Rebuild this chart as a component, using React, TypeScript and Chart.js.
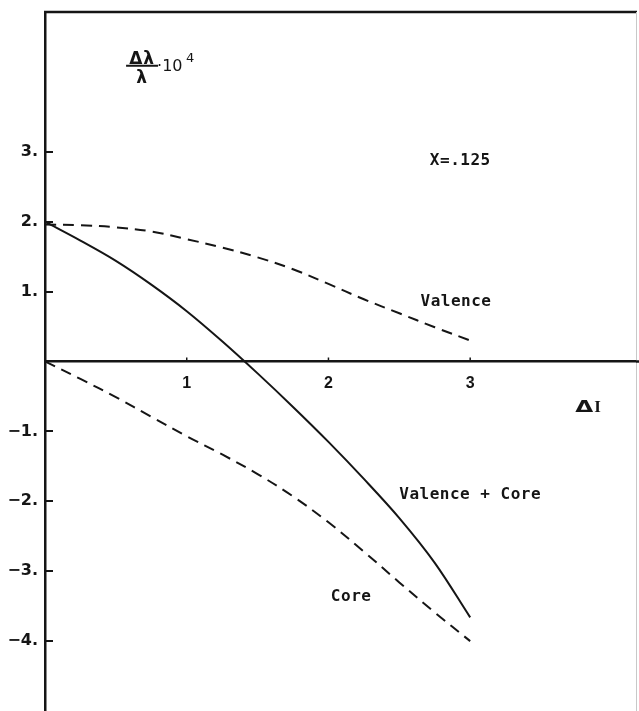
import { useEffect, useRef } from 'react';
import { Chart, registerables } from 'chart.js';

Chart.register(...registerables);

// ΔI values (x axis)
const deltaI = [0, 0.25, 0.5, 0.75, 1, 1.25, 1.5, 1.75, 2, 2.25, 2.5, 2.75, 3];
// Δλ/λ·10^4 series
const valence = [1.96, 1.95, 1.92, 1.86, 1.75, 1.63, 1.49, 1.32, 1.11, 0.89, 0.69, 0.49, 0.3];
const valenceCore = [2.0, 1.73, 1.44, 1.1, 0.72, 0.29, -0.17, -0.65, -1.15, -1.68, -2.24, -2.88, -3.66];
const core = [0, -0.25, -0.51, -0.79, -1.07, -1.33, -1.61, -1.93, -2.3, -2.72, -3.16, -3.59, -4.0];

const yTickValues = [-4, -3, -2, -1, 1, 2, 3];
const xTickValues = [1, 2, 3];

const annotationTexts = ['X=.125', 'Valence', 'Valence + Core', 'Core'];
const annotationX = [2.93, 2.9, 3.0, 2.16];
const annotationY = [2.87, 0.85, -1.91, -3.37];

const axisTitleX = [3.84, 0.685];
const axisTitleY = [-0.665, 4.23];

const INK = '#151515';

const pts = (ys: number[]) => deltaI.map((x, i) => ({ x, y: ys[i] }));

const decorPlugin = {
  id: 'decor',
  afterDraw(chart: any) {
    const { ctx, chartArea, scales } = chart;
    const xs = scales.x;
    const ys = scales.y;
    ctx.save();
    // frame: top and right
    ctx.strokeStyle = INK;
    ctx.lineWidth = 2.5;
    ctx.beginPath();
    ctx.moveTo(chartArea.left - 1, chartArea.top);
    ctx.lineTo(chartArea.right + 1, chartArea.top);
    ctx.stroke();
    ctx.strokeStyle = '#c8c8c8';
    ctx.lineWidth = 1;
    ctx.beginPath();
    ctx.moveTo(chartArea.right + 0.5, chartArea.top);
    ctx.lineTo(chartArea.right + 0.5, chartArea.bottom);
    ctx.stroke();
    // extend x axis to the edge
    const y0 = ys.getPixelForValue(0);
    ctx.strokeStyle = INK;
    ctx.lineWidth = 2.5;
    ctx.beginPath();
    ctx.moveTo(chartArea.right, y0);
    ctx.lineTo(chart.width, y0);
    ctx.stroke();
    // inward y ticks
    ctx.lineWidth = 2;
    yTickValues.forEach((v) => {
      const py = Math.round(ys.getPixelForValue(v));
      ctx.beginPath();
      ctx.moveTo(chartArea.left, py);
      ctx.lineTo(chartArea.left + 8, py);
      ctx.stroke();
    });
    // small upward x ticks
    ctx.lineWidth = 1.5;
    xTickValues.forEach((v) => {
      const px = xs.getPixelForValue(v);
      ctx.beginPath();
      ctx.moveTo(px, y0);
      ctx.lineTo(px, y0 - 4);
      ctx.stroke();
    });
    // annotations
    ctx.fillStyle = INK;
    ctx.textAlign = 'center';
    ctx.textBaseline = 'middle';
    ctx.font = 'bold 16px "DejaVu Sans Mono"';
    (ctx as any).letterSpacing = '0.5px';
    annotationTexts.forEach((t, i) => {
      ctx.fillText(t, xs.getPixelForValue(annotationX[i]), ys.getPixelForValue(annotationY[i]));
    });
    (ctx as any).letterSpacing = '0px';
    // x axis title ΔI
    const tx = xs.getPixelForValue(axisTitleX[0]);
    const ty = ys.getPixelForValue(axisTitleY[0]);
    ctx.save();
    ctx.translate(tx - 14, ty);
    ctx.scale(1.45, 1);
    ctx.font = 'bold 16px "DejaVu Sans"';
    ctx.textAlign = 'left';
    ctx.fillText('Δ', 0, 0);
    ctx.restore();
    ctx.font = 'bold 17px "Liberation Serif"';
    ctx.textAlign = 'left';
    ctx.fillText('I', tx + 5, ty);
    // y axis title Δλ/λ·10^4
    const fx = xs.getPixelForValue(axisTitleX[1]);
    const fy = ys.getPixelForValue(axisTitleY[1]);
    ctx.textAlign = 'center';
    ctx.textBaseline = 'alphabetic';
    ctx.font = 'bold 17px "DejaVu Sans"';
    (ctx as any).letterSpacing = '1px';
    ctx.fillText('Δλ', fx, fy - 2);
    ctx.fillText('λ', fx, fy + 17);
    (ctx as any).letterSpacing = '0px';
    ctx.lineWidth = 2;
    ctx.beginPath();
    ctx.moveTo(fx - 16, fy);
    ctx.lineTo(fx + 16, fy);
    ctx.stroke();
    ctx.textAlign = 'left';
    ctx.font = '16px "DejaVu Sans"';
    ctx.fillText('·10', fx + 15, fy + 5);
    ctx.font = '13px "DejaVu Sans"';
    ctx.fillText('4', fx + 44, fy - 4);
    ctx.restore();
  },
};

export default function App() {
  const ref = useRef<HTMLCanvasElement>(null);
  useEffect(() => {
    document.body.style.margin = '0';
    const lineBase = {
      pointRadius: 0,
      borderColor: INK,
      borderWidth: 2,
      fill: false,
      tension: 0.35,
    };
    const chart = new Chart(ref.current!, {
      type: 'line',
      data: {
        datasets: [
          { ...lineBase, label: 'Valence', data: pts(valence), borderDash: [11, 7] },
          { ...lineBase, label: 'Valence + Core', data: pts(valenceCore) },
          { ...lineBase, label: 'Core', data: pts(core), borderDash: [11, 7] },
        ],
      },
      options: {
        animation: false,
        responsive: false,
        devicePixelRatio: 1,
        layout: { padding: { top: 12, right: 3, left: 0, bottom: 0 } },
        plugins: { legend: { display: false }, tooltip: { enabled: false } },
        scales: {
          x: {
            type: 'linear',
            min: 0,
            max: 4.17,
            position: { y: 0 } as any,
            grid: { display: false, drawTicks: false },
            border: { display: true, color: INK, width: 2.5 },
            ticks: {
              color: INK,
              font: { family: 'Liberation Sans', size: 16, weight: 'bold' },
              padding: 12,
              callback: (v: any) => String(v),
            },
            afterBuildTicks: (s: any) => {
              s.ticks = xTickValues.map((v) => ({ value: v }));
            },
            afterFit: (s: any) => {
              s.paddingLeft = 0;
              s.paddingRight = 0;
            },
          },
          y: {
            type: 'linear',
            min: -5,
            max: 5,
            position: 'left',
            grid: { display: false, drawTicks: false },
            border: { display: true, color: INK, width: 2.5 },
            ticks: {
              color: INK,
              font: { family: 'DejaVu Sans', size: 16, weight: 'bold' },
              padding: 7,
              callback: (v: any) => (v < 0 ? '−' + Math.abs(v) : String(v)) + '.',
            },
            afterBuildTicks: (s: any) => {
              s.ticks = yTickValues.map((v) => ({ value: v }));
            },
            afterFit: (s: any) => {
              s.width = 45;
              s.paddingTop = 0;
              s.paddingBottom = 0;
            },
          },
        },
      },
      plugins: [decorPlugin],
    });
    return () => chart.destroy();
  }, []);
  return (
    <div style={{ position: 'fixed', left: 0, top: 0, width: 639, height: 711, background: '#fff' }}>
      <canvas ref={ref} width={639} height={711} style={{ display: 'block' }} />
    </div>
  );
}
